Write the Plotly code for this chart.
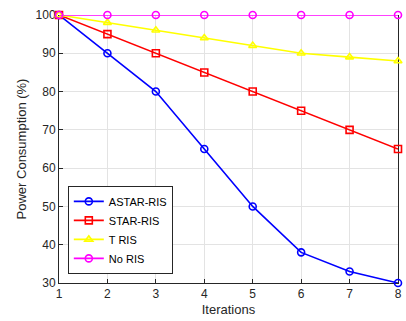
import plotly.graph_objects as go

iterations = [1, 2, 3, 4, 5, 6, 7, 8]
astar_ris = [100, 90, 80, 65, 50, 38, 33, 30]
star_ris = [100, 95, 90, 85, 80, 75, 70, 65]
t_ris = [100, 98, 96, 94, 92, 90, 89, 88]
no_ris = [100, 100, 100, 100, 100, 100, 100, 100]

series = [
    ("ASTAR-RIS", astar_ris, "#0000FF", "circle-open"),
    ("STAR-RIS", star_ris, "#FF0000", "square-open"),
    ("T RIS", t_ris, "#FFFF00", "triangle-up-open"),
    ("No RIS", no_ris, "#FF00FF", "circle-open"),
]

fig = go.Figure()
for name, vals, col, sym in series:
    fig.add_trace(go.Scatter(
        x=iterations, y=vals, name=name, mode="lines+markers",
        line=dict(color=col, width=1.6),
        marker=dict(symbol=sym, size=7, color=col, line=dict(color=col, width=1.6)),
        cliponaxis=False,
    ))

axis_common = dict(
    showgrid=True, gridcolor="#E3E3E3", gridwidth=1,
    showline=True, linecolor="#262626", linewidth=1,
    ticks="inside", ticklen=4, tickcolor="#262626",
    tickfont=dict(family="Liberation Sans, Arial", size=12, color="#262626"),
    zeroline=False, layer="below traces",
)

fig.update_layout(
    width=406, height=321,
    margin=dict(l=59, r=4, t=15, b=38),
    paper_bgcolor="white", plot_bgcolor="white",
    font=dict(family="Liberation Sans, Arial", size=12, color="#262626"),
    xaxis=dict(range=[1, 8], tickvals=iterations, mirror=False,
               title=dict(text="Iterations", standoff=4, font=dict(size=13)),
               **axis_common),
    yaxis=dict(range=[30, 100], tickvals=[30, 40, 50, 60, 70, 80, 90, 100], mirror=True,
               title=dict(text="Power Consumption (%)", standoff=6, font=dict(size=13)),
               **axis_common),
    legend=dict(x=0.026, y=0.034, xanchor="left", yanchor="bottom",
                bgcolor="white", bordercolor="#262626", borderwidth=1,
                font=dict(size=11, color="#000000"),
                tracegroupgap=0, itemwidth=30),
    showlegend=True,
)

fig.write_html("out.html")
